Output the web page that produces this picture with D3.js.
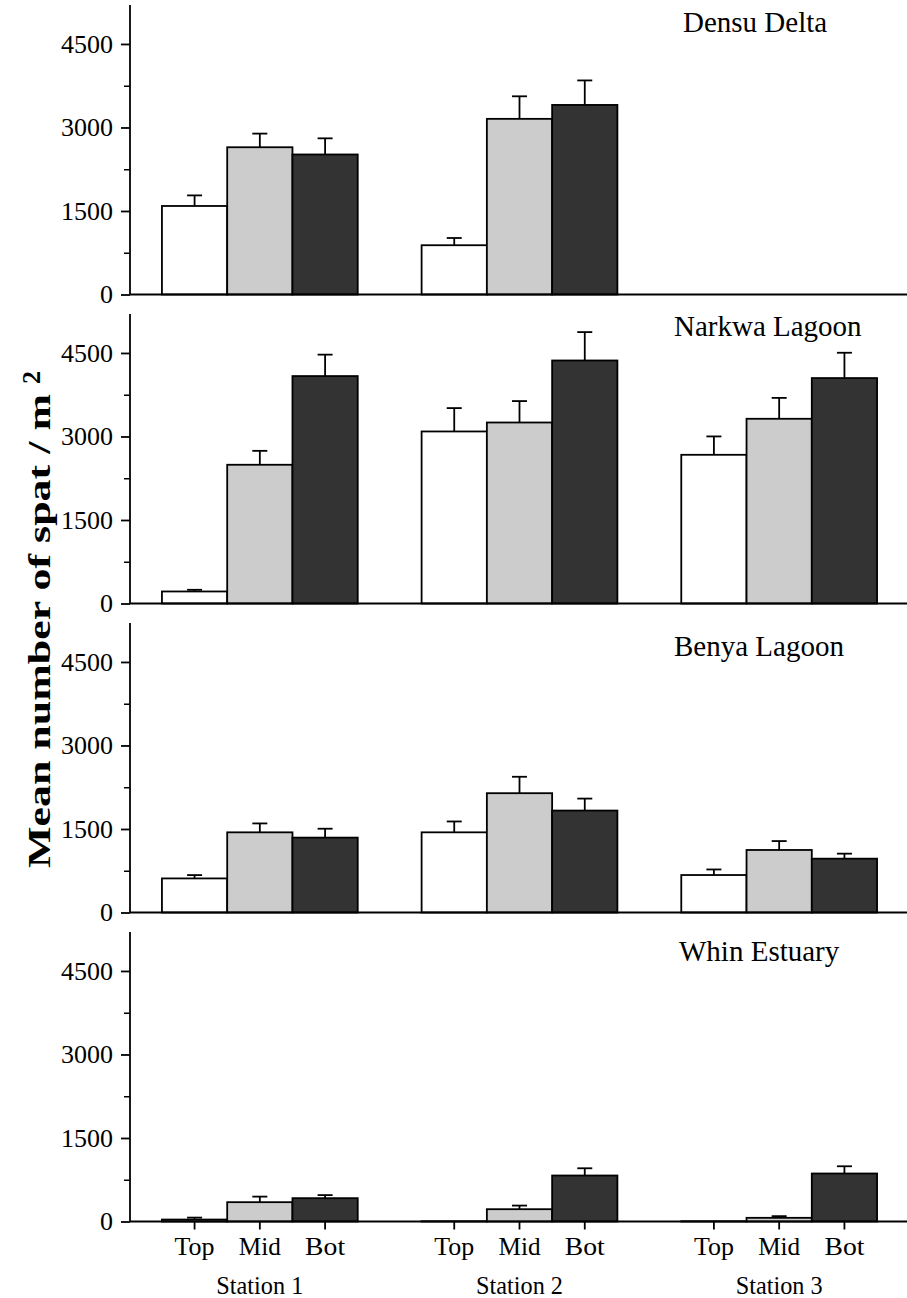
<!DOCTYPE html>
<html>
<head>
<meta charset="utf-8">
<script src="https://cdn.jsdelivr.net/npm/d3@7"></script>
<style>
  html, body { margin: 0; padding: 0; background: #fff; }
  svg { display: block; }
  text { font-family: "Liberation Serif", "Times New Roman", serif; fill: #000; }
</style>
</head>
<body>
<svg id="chart" width="907" height="1298"></svg>
<script>
// ---------------- DATA ----------------
const stations = ["Station 1", "Station 2", "Station 3"];
const positions = ["Top", "Mid", "Bot"];
const sites = ["Densu Delta", "Narkwa Lagoon", "Benya Lagoon", "Whin Estuary"];
const yTicks = [0, 1500, 3000, 4500];
const yMinorTicks = [750, 2250, 3750];

// mean number of spat per m^2, per station: [Top, Mid, Bot]
const densuMean  = [[1590, 2645, 2515], [885, 3155, 3405], [null, null, null]];
const densuSE    = [[190, 245, 290],    [130, 405, 440],   [null, null, null]];
const narkwaMean = [[216, 2492, 4085],  [3090, 3251, 4365], [2671, 3318, 4049]];
const narkwaSE   = [[30, 250, 385],     [420, 385, 510],    [330, 375, 455]];
const benyaMean  = [[612, 1440, 1345],  [1440, 2143, 1831], [673, 1123, 967]];
const benyaSE    = [[60, 160, 160],     [195, 295, 215],    [100, 160, 90]];
const whinMean   = [[35, 347, 419],     [5, 221, 826],      [5, 66, 862]];
const whinSE     = [[35, 100, 55],      [0, 65, 130],       [0, 30, 130]];

const fills = ["#ffffff", "#cccccc", "#333333"];

// ---------------- LAYOUT ----------------
const axisX = 130, axisRight = 909;
const panelTop0 = 5, panelStep = 309, panelH = 289.5;
const yMax = 5200;
// title placement per panel: [x start, baseline offset from panel top]
const titleLayout = [[683, 27], [674, 22], [674, 33], [679, 28.5]];

const means = [densuMean, narkwaMean, benyaMean, whinMean];
const ses = [densuSE, narkwaSE, benyaSE, whinSE];

const svg = d3.select("#chart");

const x0 = d3.scaleBand().domain(stations).range([axisX, axisRight])
  .paddingInner(0.246).paddingOuter(0.123);
const x1 = d3.scaleBand().domain(positions).range([0, x0.bandwidth()]).padding(0);

sites.forEach((site, pi) => {
  const top = panelTop0 + pi * panelStep;
  const zero = top + panelH;
  const y = d3.scaleLinear().domain([0, yMax]).range([zero, top]);
  const g = svg.append("g");

  const recs = [];
  stations.forEach((st, si) => {
    positions.forEach((pos, ki) => {
      const m = means[pi][si][ki];
      if (m === null || m === undefined) return;
      recs.push({ st, pos, ki, m, se: ses[pi][si][ki] });
    });
  });

  // error bars
  const capW = 15;
  const eb = g.append("g").attr("stroke", "#000").attr("stroke-width", 1.8);
  recs.filter(d => d.se > 0).forEach(d => {
    const cx = x0(d.st) + x1(d.pos) + x1.bandwidth() / 2;
    eb.append("line").attr("x1", cx).attr("x2", cx)
      .attr("y1", y(d.m)).attr("y2", y(d.m + d.se));
    eb.append("line").attr("x1", cx - capW / 2).attr("x2", cx + capW / 2)
      .attr("y1", y(d.m + d.se)).attr("y2", y(d.m + d.se));
  });

  // bars
  g.append("g").selectAll("rect").data(recs).join("rect")
    .attr("x", d => x0(d.st) + x1(d.pos))
    .attr("width", x1.bandwidth())
    .attr("y", d => y(d.m))
    .attr("height", d => Math.max(0, y(0) - y(d.m)))
    .attr("fill", d => fills[d.ki])
    .attr("stroke", "#000")
    .attr("stroke-width", 1.8);

  // y axis
  const yAxis = d3.axisLeft(y).tickValues(yTicks).tickSize(9).tickPadding(8)
    .tickFormat(d3.format("d"));
  const ya = g.append("g").attr("transform", `translate(${axisX},0)`).call(yAxis);
  ya.attr("font-family", null).attr("font-size", null);
  ya.select(".domain").attr("d", `M0,${top}V${zero}`).attr("stroke-width", 1.8);
  ya.selectAll(".tick line").attr("stroke-width", 1.8);
  ya.selectAll(".tick text").style("font-size", "26px")
    .style("font-family", "'Liberation Serif', 'Times New Roman', serif");
  const yMinor = d3.axisLeft(y).tickValues(yMinorTicks).tickSize(6).tickFormat("");
  const ym = g.append("g").attr("transform", `translate(${axisX},0)`).call(yMinor);
  ym.select(".domain").remove();
  ym.selectAll(".tick line").attr("stroke-width", 1.5);

  // x axis line
  g.append("line").attr("x1", axisX).attr("x2", axisRight)
    .attr("y1", zero).attr("y2", zero)
    .attr("stroke", "#000").attr("stroke-width", 1.8);

  // title
  g.append("text").attr("x", titleLayout[pi][0]).attr("y", top + titleLayout[pi][1])
    .style("font-size", "29px").text(site);

  // bottom panel: x ticks and labels
  if (pi === sites.length - 1) {
    stations.forEach(st => {
      positions.forEach(pos => {
        const cx = x0(st) + x1(pos) + x1.bandwidth() / 2;
        g.append("line").attr("x1", cx).attr("x2", cx)
          .attr("y1", zero).attr("y2", zero + 8)
          .attr("stroke", "#000").attr("stroke-width", 1.8);
        g.append("text").attr("x", cx).attr("y", zero + 33)
          .attr("text-anchor", "middle").style("font-size", "26px")
          .attr("textLength", pos === "Mid" ? 42 : 40).attr("lengthAdjust", "spacingAndGlyphs")
          .text(pos);
      });
      g.append("text").attr("x", x0(st) + x0.bandwidth() / 2).attr("y", zero + 72)
        .attr("text-anchor", "middle").style("font-size", "26px")
        .attr("textLength", 87).attr("lengthAdjust", "spacingAndGlyphs")
        .text(st);
    });
  }
});

// y axis title
const yl = svg.append("text")
  .attr("transform", "translate(50,868) rotate(-90)")
  .attr("text-anchor", "start")
  .style("font-weight", "bold")
  .style("font-size", "32px");
yl.append("tspan").attr("x", 0)
  .attr("textLength", 474).attr("lengthAdjust", "spacingAndGlyphs")
  .text("Mean number of spat / m");
yl.append("tspan").attr("x", 484).attr("dy", -10).style("font-size", "26px").text("2");
</script>
</body>
</html>
